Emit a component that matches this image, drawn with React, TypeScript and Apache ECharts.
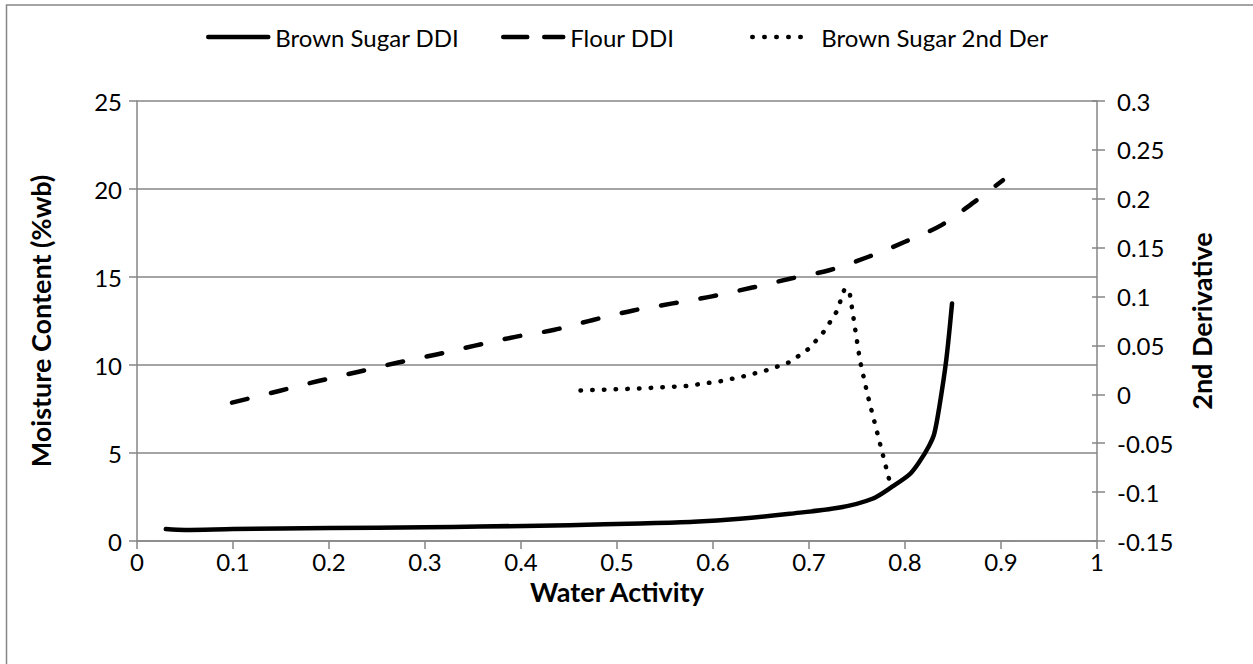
import React, { useEffect, useRef } from "react";
import * as echarts from "echarts";

const sugarX = [0.03, 0.05, 0.1, 0.2, 0.3, 0.357, 0.45, 0.524, 0.58, 0.628, 0.68, 0.732, 0.766, 0.787, 0.805, 0.815, 0.825, 0.8305, 0.8357, 0.843, 0.849];
const sugarY = [0.68, 0.63, 0.68, 0.74, 0.78, 0.82, 0.9, 1.0, 1.1, 1.27, 1.55, 1.9, 2.4, 3.1, 3.8, 4.5, 5.4, 6.1, 7.6, 10.3, 13.5];

const flourX = [0.099, 0.149, 0.189, 0.231, 0.271, 0.312, 0.352, 0.394, 0.435, 0.475, 0.517, 0.558, 0.599, 0.641, 0.68, 0.722, 0.762, 0.8, 0.838, 0.873, 0.902];
const flourY = [7.86, 8.54, 9.09, 9.62, 10.13, 10.6, 11.1, 11.6, 12.0, 12.56, 13.1, 13.5, 13.9, 14.4, 14.9, 15.4, 16.15, 17.0, 17.95, 19.3, 20.5];

const derX = [0.462, 0.524, 0.572, 0.609, 0.633, 0.657, 0.68, 0.7, 0.716, 0.729, 0.737, 0.742, 0.753, 0.761, 0.773, 0.785];
const derY = [0.004, 0.006, 0.0085, 0.0136, 0.0187, 0.0249, 0.033, 0.0467, 0.0647, 0.0849, 0.1077, 0.1064, 0.035, -0.0004, -0.0467, -0.0928];

const seriesNames = ["Brown Sugar DDI", "Flour DDI", "Brown Sugar 2nd Der"];
const xTitle = "Water Activity";
const yLeftTitle = "Moisture Content (%wb)";
const yRightTitle = "2nd Derivative";

const pairs = (xs: number[], ys: number[]) => xs.map((x, i) => [x, ys[i]]);

const FONT = "Lato";
const GRAY = "#868686";
const legendLefts = [201, 496, 745];
const legendWidths = [60, 60, 60];
const legendPads = [2, 2, 4];
const legendDash: any[] = ["solid", [24, 17], [0.5, 11.5]];

export default function App() {
  const ref = useRef<HTMLDivElement>(null);
  useEffect(() => {
    if (!ref.current) return;
    const chart = echarts.init(ref.current, undefined, { renderer: "svg" });
    const axisLabel = { color: "#000", fontFamily: FONT, fontSize: 24 };
    const nameStyle = { color: "#000", fontFamily: FONT, fontSize: 27, fontWeight: "bold" as const };
    chart.setOption({
      animation: false,
      backgroundColor: "#fff",
      textStyle: { fontFamily: FONT },
      graphic: [
        {
          type: "rect",
          shape: { x: 6.5, y: 5, width: 1300, height: 700 },
          style: { fill: "none", stroke: GRAY, lineWidth: 1.5 },
          silent: true,
          z: -10,
        },
      ],
      legend: seriesNames.map((n, i) => ({
        top: 20,
        left: legendLefts[i],
        itemWidth: legendWidths[i],
        itemHeight: 14,
        itemStyle: { opacity: 0 },
        lineStyle: { color: "#000", width: 4.5, type: legendDash[i], cap: "round" },
        textStyle: { color: "#000", fontFamily: FONT, fontSize: 24, padding: [0, 0, 0, legendPads[i]] },
        data: [n],
      })),
      grid: { left: 137, right: 156, top: 101, bottom: 123 },
      xAxis: {
        type: "value",
        min: 0,
        max: 1,
        interval: 0.1,
        name: xTitle,
        nameLocation: "middle",
        nameGap: 34,
        nameTextStyle: nameStyle,
        axisLine: { show: true, onZero: false, lineStyle: { color: GRAY, width: 1.5 } },
        axisTick: { show: true, length: 8, lineStyle: { color: GRAY, width: 1.5 } },
        axisLabel: { ...axisLabel, margin: 8 },
        splitLine: { show: false },
      },
      yAxis: [
        {
          type: "value",
          min: 0,
          max: 25,
          interval: 5,
          name: yLeftTitle,
          nameLocation: "middle",
          nameGap: 83,
          nameTextStyle: nameStyle,
          axisLine: { show: true, lineStyle: { color: GRAY, width: 1.5 } },
          axisTick: { show: true, length: 8, lineStyle: { color: GRAY, width: 1.5 } },
          axisLabel: { ...axisLabel, margin: 15 },
          splitLine: { show: true, lineStyle: { color: GRAY, width: 1.5 } },
        },
        {
          type: "value",
          min: -0.15,
          max: 0.3,
          interval: 0.05,
          position: "right",
          name: yRightTitle,
          nameLocation: "middle",
          nameGap: 91,
          nameTextStyle: nameStyle,
          axisLine: { show: true, lineStyle: { color: GRAY, width: 1.5 } },
          axisTick: { show: true, length: 8, lineStyle: { color: GRAY, width: 1.5 } },
          axisLabel: { ...axisLabel, margin: 20 },
          splitLine: { show: false },
        },
        {
          type: "value",
          min: -0.15,
          max: 0.3,
          interval: 0.05,
          position: "right",
          axisLine: { show: false },
          axisTick: { show: true, inside: true, length: 5, lineStyle: { color: GRAY, width: 1.5 } },
          axisLabel: { show: false },
          splitLine: { show: false },
        },
      ],
      series: [
        {
          name: seriesNames[0],
          type: "line",
          yAxisIndex: 0,
          data: pairs(sugarX, sugarY),
          symbol: "none",
          smooth: 0.3,
          lineStyle: { color: "#000", width: 4.5, cap: "round", join: "round" },
          itemStyle: { color: "#000" },
        },
        {
          name: seriesNames[1],
          type: "line",
          yAxisIndex: 0,
          data: pairs(flourX, flourY),
          symbol: "none",
          smooth: 0.3,
          lineStyle: { color: "#000", width: 4.5, type: [16, 24], cap: "round", join: "round" },
          itemStyle: { color: "#000" },
        },
        {
          name: seriesNames[2],
          type: "line",
          yAxisIndex: 1,
          data: pairs(derX, derY),
          symbol: "none",
          smooth: false,
          lineStyle: { color: "#000", width: 4.5, type: [0.5, 11.2], cap: "round", join: "round" },
          itemStyle: { color: "#000" },
        },
      ],
    });
    return () => chart.dispose();
  }, []);
  return (
    <div
      ref={ref}
      style={{ position: "absolute", left: 0, top: 0, width: 1253, height: 664 }}
    />
  );
}
